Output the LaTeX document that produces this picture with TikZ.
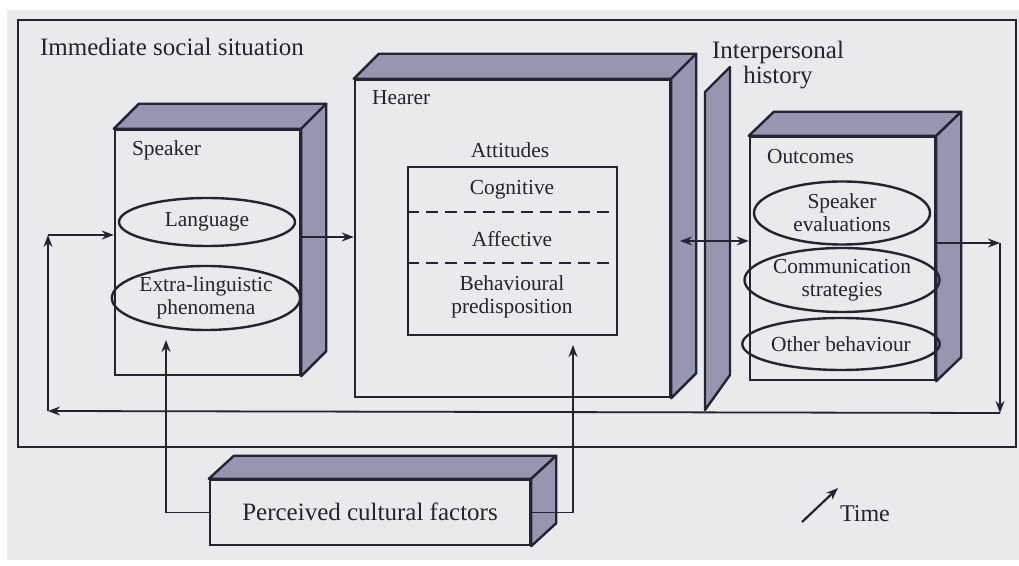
\documentclass[tikz,border=0pt]{standalone}
\usepackage{fontspec}
\setmainfont{Liberation Serif}
\usetikzlibrary{shapes.geometric,calc,arrows.meta}
\definecolor{ink}{RGB}{35,35,50}
\definecolor{paper}{RGB}{232,234,235}
\definecolor{hatch}{RGB}{150,150,176}
\tikzset{
	frontbox/.style={draw=ink,line width=1.2pt,inner sep=0pt},
	sideface/.style={fill=hatch,draw=ink,line width=1.2pt,line join=round},
	oval/.style={ellipse,draw=ink,line width=1.2pt,inner sep=0pt,minimum width=88pt,txt},
	txt/.style={font=\fontsize{10.7}{11.5}\selectfont,text=ink,align=center},
	bigtxt/.style={font=\fontsize{12.5}{12.5}\selectfont,text=ink,align=center},
	conn/.style={draw=ink,line width=0.9pt}
}
\begin{document}
\begin{tikzpicture}[x=0.5pt,y=-0.5pt,>={Stealth[length=6pt,width=4.5pt]}]
	\useasboundingbox (0,0) rectangle (1019,566);
	\fill[paper] (7,10) rectangle (1019,560);
	%Frame
	\draw[ink,line width=1.3pt] (18,20) rectangle (1016,447);
	\node[bigtxt,anchor=west] (sit) at (33,47) {Immediate social situation};
	%Box 1: speaker
	\node[frontbox,minimum width=92.5pt,minimum height=122.5pt] (spk) at (207.5,252.5) {};
	\filldraw[sideface] (spk.north west) -- ++(25,-25) -- ($(spk.north east)+(25,-25)$) -- (spk.north east) -- cycle;
	\filldraw[sideface] (spk.north east) -- ++(25,-25) -- ($(spk.south east)+(25,-25)$) -- (spk.south east) -- cycle;
	\node[txt,anchor=west] (spklab) at (125,150) {Speaker};
	\node[oval,minimum height=24pt] (lang) at (207,222) {Language};
	\node[oval,minimum height=32pt] (ext) at (206,298) {Extra-linguistic\\phenomena};
	%Box 2: hearer
	\node[frontbox,minimum width=157.5pt,minimum height=158.5pt] (hea) at (512.5,238.5) {};
	\filldraw[sideface] (hea.north west) -- ++(25,-25) -- ($(hea.north east)+(25,-25)$) -- (hea.north east) -- cycle;
	\filldraw[sideface] (hea.north east) -- ++(25,-25) -- ($(hea.south east)+(25,-25)$) -- (hea.south east) -- cycle;
	\node[txt,anchor=west] (healab) at (365,98) {Hearer};
	%Attitudes
	\node[txt] (attlab) at (510,150) {Attitudes};
	\node[frontbox,minimum width=104.5pt,minimum height=84pt] (att) at (512.5,251) {};
	\node[txt] (cog) at (512,190) {Cognitive};
	\node[txt] (aff) at (512,239) {Affective};
	\node[txt] (beh) at (512,297) {Behavioural\\predisposition};
	\coordinate (d1) at (0,212);
	\coordinate (d2) at (0,263);
	\draw[ink,line width=1.1pt,dash pattern=on 6pt off 3.5pt] (att.west |- d1) -- (att.east |- d1);
	\draw[ink,line width=1.1pt,dash pattern=on 6pt off 3.5pt] (att.west |- d2) -- (att.east |- d2);
	%Interpersonal history
	\filldraw[sideface] (705,92) -- (730,67) -- (730,375) -- (705,410) -- cycle;
	\node[bigtxt] (hist) at (778,65) {Interpersonal\\history};
	%Box 3: outcomes
	\node[frontbox,minimum width=92.5pt,minimum height=121.5pt] (out) at (842.5,258.5) {};
	\filldraw[sideface] (out.north west) -- ++(25,-24) -- ($(out.north east)+(25,-24)$) -- (out.north east) -- cycle;
	\filldraw[sideface] (out.north east) -- ++(25,-24) -- ($(out.south east)+(25,-24)$) -- (out.south east) -- cycle;
	\node[txt,anchor=west] (outlab) at (760,157) {Outcomes};
	\node[oval,minimum height=31.5pt] (eval) at (842,213) {Speaker\\evaluations};
	\node[oval,minimum height=32pt] (strat) at (842,280) {Communication\\strategies};
	\node[oval,minimum height=26pt] (other) at (841,344) {Other behaviour};
	%Box 4: perceived cultural factors
	\node[frontbox,minimum width=160pt,minimum height=32.5pt] (pcf) at (370,512.5) {};
	\filldraw[sideface] (pcf.north west) -- ++(25,-23) -- ($(pcf.north east)+(25,-23)$) -- (pcf.north east) -- cycle;
	\filldraw[sideface] (pcf.north east) -- ++(25,-23) -- ($(pcf.south east)+(25,-23)$) -- (pcf.south east) -- cycle;
	\node[bigtxt] (pcflab) at (370,512) {Perceived cultural factors};
	%Arrows between boxes
	\coordinate (sh) at (300,237);
	\draw[conn,->] (sh) -- (sh -| hea.west);
	\coordinate (ho) at (680,241);
	\draw[conn,<->] (ho) -- (ho -| out.west);
	%Feedback loop
	\coordinate (r1) at (935,243);
	\coordinate (r2) at (1000,243);
	\coordinate (r3) at (1000,413);
	\coordinate (l3) at (48,411);
	\coordinate (l2) at (48,235);
	\draw[conn,->] (r1) -- (r2);
	\draw[conn,->] (r2) -- (r3);
	\draw[conn,->] (r3) -- (l3);
	\draw[conn,->] (l3) -- (l2);
	\draw[conn,->] (l2) -- (l2 -| spk.west);
	%Arrows from culture
	\coordinate (pl) at (166,340);
	\coordinate (pr) at (573,345);
	\draw[conn,->] (pcf.west) -| (pl);
	\draw[conn,->] (pcf.east) -| (pr);
	%Time
	\node[bigtxt,font=\fontsize{12}{12}\selectfont,anchor=west] (time) at (833,514) {Time};
	\coordinate (t0) at (802,522);
	\coordinate (t1) at (838,488);
	\draw[conn,line width=1.1pt,->] (t0) -- (t1);
\end{tikzpicture}
\end{document}
